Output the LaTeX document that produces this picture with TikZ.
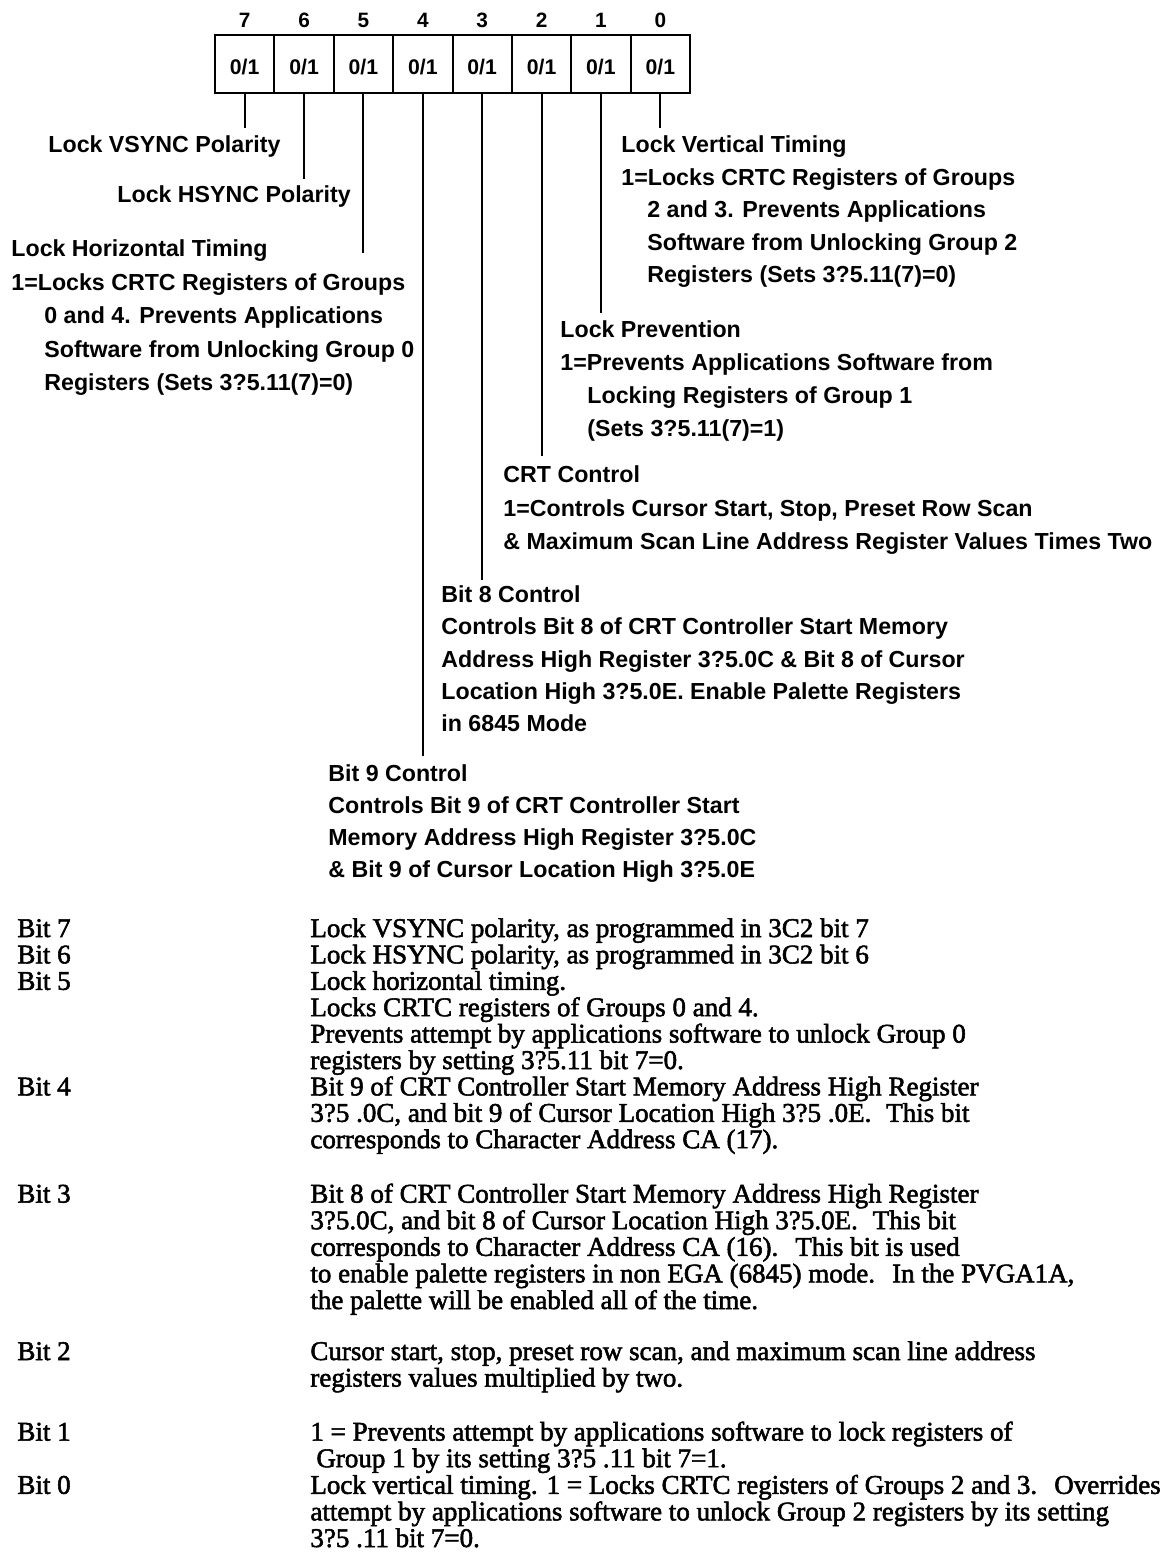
\documentclass[tikz,border=0pt]{standalone}
\usepackage{fontspec}
\setmainfont{Liberation Serif}
\newfontfamily\sansf{Liberation Sans}
\newfontfamily\tabf{Liberation Serif}[FakeBold=2]
\begin{document}
\begin{tikzpicture}[x=0.5pt,y=-0.5pt,
  lab/.style={font=\sansf\bfseries\fontsize{11.6}{13}\selectfont, anchor=base west, inner sep=0pt},
  tb/.style={font=\tabf\fontsize{13.5}{13}\selectfont, anchor=base west, inner sep=0pt},
  cellbox/.style={draw, line width=1pt, minimum width=29.6875pt, minimum height=29pt, inner sep=0pt,
    font=\sansf\bfseries\fontsize{10.6}{12}\selectfont, text height=10.4pt, text depth=0pt},
  bitnum/.style={font=\sansf\bfseries\fontsize{10.4}{12}\selectfont, inner sep=0pt},
  tick/.style={line width=1pt}]
\useasboundingbox (0,0) rectangle (1168,1563);
% register cells and bit numbers
\foreach \b in {7,6,5,4,3,2,1,0}{
  \node[cellbox] (c\b) at ({215+59.375*(7.5-\b)},64) {0/1};
  \node[bitnum] (n\b) at ({215+59.375*(7.5-\b)},20) {\b};
}
% free ends of the leader lines
\path (c7.south) ++(0,34)  coordinate (e7);
\path (c6.south) ++(0,85)  coordinate (e6);
\path (c5.south) ++(0,159) coordinate (e5);
\path (c4.south) ++(0,662) coordinate (e4);
\path (c3.south) ++(0,486) coordinate (e3);
\path (c2.south) ++(0,362) coordinate (e2);
\path (c1.south) ++(0,219) coordinate (e1);
\path (c0.south) ++(0,34)  coordinate (e0);
\foreach \b in {7,6,5,4,3,2,1,0}{ \draw[tick] (c\b.south) -- (e\b); }
% left labels
\node[lab] (l7)  at (48,152.5) {Lock VSYNC Polarity};
\node[lab] (l6)  at (117,202.5) {Lock HSYNC Polarity};
\node[lab] (l5a) at (11,256) {Lock Horizontal Timing};
\node[lab] (l5b) at (11,290) {1=Locks CRTC Registers of Groups};
\node[lab] (l5c) at (44,323.5) {0 and 4. Prevents Applications};
\node[lab] (l5d) at (44,357) {Software from Unlocking Group 0};
\node[lab] (l5e) at (44,390.5) {Registers (Sets 3?5.11(7)=0)};
% right labels
\node[lab] (l0a) at (621,152.5) {Lock Vertical Timing};
\node[lab] (l0b) at (621,185) {1=Locks CRTC Registers of Groups};
\node[lab] (l0c) at (647,217.5) {2 and 3. Prevents Applications};
\node[lab] (l0d) at (647,250) {Software from Unlocking Group 2};
\node[lab] (l0e) at (647,282.5) {Registers (Sets 3?5.11(7)=0)};
\node[lab] (l1a) at (560,337.5) {Lock Prevention};
\node[lab] (l1b) at (560,370.5) {1=Prevents Applications Software from};
\node[lab] (l1c) at (587,403.5) {Locking Registers of Group 1};
\node[lab] (l1d) at (587,436.5) {(Sets 3?5.11(7)=1)};
\node[lab] (l2a) at (503,482.5) {CRT Control};
\node[lab] (l2b) at (503,516) {1=Controls Cursor Start, Stop, Preset Row Scan};
\node[lab] (l2c) at (503,549) {\& Maximum Scan Line Address Register Values Times Two};
\node[lab] (l3a) at (441,602.5) {Bit 8 Control};
\node[lab] (l3b) at (441,634.75) {Controls Bit 8 of CRT Controller Start Memory};
\node[lab] (l3c) at (441,667) {Address High Register 3?5.0C \& Bit 8 of Cursor};
\node[lab] (l3d) at (441,699.25) {Location High 3?5.0E. Enable Palette Registers};
\node[lab] (l3e) at (441,731.5) {in 6845 Mode};
\node[lab] (l4a) at (328,781.5) {Bit 9 Control};
\node[lab] (l4b) at (328,813.5) {Controls Bit 9 of CRT Controller Start};
\node[lab] (l4c) at (328,845.5) {Memory Address High Register 3?5.0C};
\node[lab] (l4d) at (328,877.5) {\& Bit 9 of Cursor Location High 3?5.0E};
% table
\node[tb] (b7) at (17,937) {Bit 7};
\node[tb] (b6) at (17,963.4) {Bit 6};
\node[tb] (b5) at (17,989.8) {Bit 5};
\node[tb] (b4) at (17,1095.4) {Bit 4};
\node[tb] (b3) at (17,1202.6) {Bit 3};
\node[tb] (b2) at (17,1360) {Bit 2};
\node[tb] (b1) at (17,1440.6) {Bit 1};
\node[tb] (b0) at (17,1493.8) {Bit 0};
\node[tb] (d7)  at (310,937) {Lock VSYNC polarity, as programmed in 3C2 bit 7};
\node[tb] (d6)  at (310,963.4) {Lock HSYNC polarity, as programmed in 3C2 bit 6};
\node[tb] (d5a) at (310,989.8) {Lock horizontal timing.};
\node[tb] (d5b) at (310,1016.2) {Locks CRTC registers of Groups 0 and 4.};
\node[tb] (d5c) at (310,1042.6) {Prevents attempt by applications software to unlock Group 0};
\node[tb] (d5d) at (310,1069) {registers by setting 3?5.11 bit 7=0.};
\node[tb] (d4a) at (310,1095.4) {Bit 9 of CRT Controller Start Memory Address High Register};
\node[tb] (d4b) at (310,1121.8) {3?5 .0C, and bit 9 of Cursor Location High 3?5 .0E.\hspace{0.3em} This bit};
\node[tb] (d4c) at (310,1148.2) {corresponds to Character Address CA (17).};
\node[tb] (d3a) at (310,1202.6) {Bit 8 of CRT Controller Start Memory Address High Register};
\node[tb] (d3b) at (310,1229.2) {3?5.0C, and bit 8 of Cursor Location High 3?5.0E.\hspace{0.3em} This bit};
\node[tb] (d3c) at (310,1255.8) {corresponds to Character Address CA (16).\hspace{0.3em} This bit is used};
\node[tb] (d3d) at (310,1282.4) {to enable palette registers in non EGA (6845) mode.\hspace{0.3em} In the PVGA1A,};
\node[tb] (d3e) at (310,1309) {the palette will be enabled all of the time.};
\node[tb] (d2a) at (310,1360) {Cursor start, stop, preset row scan, and maximum scan line address};
\node[tb] (d2b) at (310,1386.6) {registers values multiplied by two.};
\node[tb] (d1a) at (310,1440.6) {1 = Prevents attempt by applications software to lock registers of};
\node[tb] (d1b) at (316,1467.2) {Group 1 by its setting 3?5 .11 bit 7=1.};
\node[tb] (d0a) at (310,1493.8) {Lock vertical timing. 1 = Locks CRTC registers of Groups 2 and 3.\hspace{0.3em} Overrides};
\node[tb] (d0b) at (310,1520.4) {attempt by applications software to unlock Group 2 registers by its setting};
\node[tb] (d0c) at (310,1547) {3?5 .11 bit 7=0.};
\end{tikzpicture}
\end{document}
